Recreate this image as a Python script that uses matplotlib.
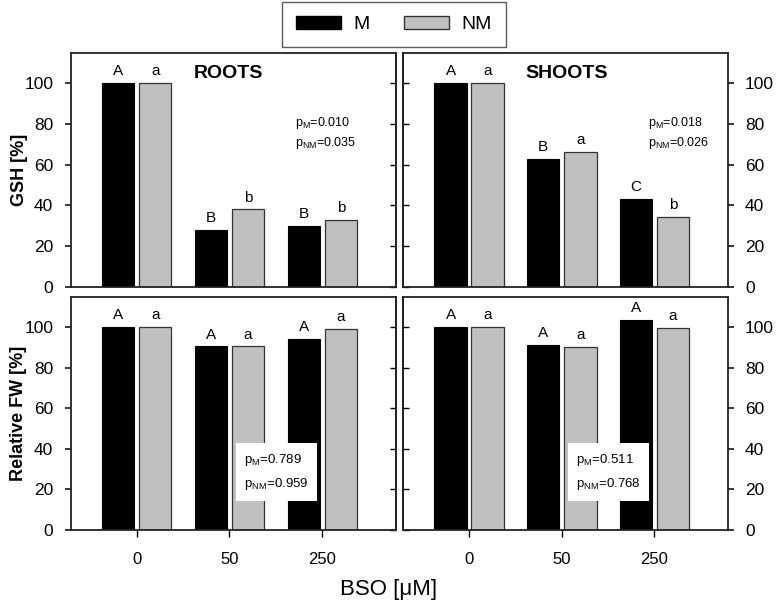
import numpy as np
import matplotlib
matplotlib.use("Agg")
import matplotlib.pyplot as plt
from matplotlib.patches import Patch

plt.rcParams['font.family'] = ['Liberation Sans', 'DejaVu Sans']
plt.rcParams['mathtext.fontset'] = 'custom'
plt.rcParams['mathtext.rm'] = 'Liberation Sans'
plt.rcParams['mathtext.it'] = 'Liberation Sans:italic'
plt.rcParams['mathtext.bf'] = 'Liberation Sans:bold'

# ---- data ----
bso_labels = ['0', '50', '250']
yticks = [0, 20, 40, 60, 80, 100]

roots_gsh_M = [100, 28, 30]
roots_gsh_NM = [100, 38, 33]
shoots_gsh_M = [100, 62.8, 43.3]
shoots_gsh_NM = [100, 66.2, 34.4]
roots_fw_M = [100, 90.4, 94.3]
roots_fw_NM = [100, 90.4, 98.9]
shoots_fw_M = [100, 91.2, 103.6]
shoots_fw_NM = [100, 90.3, 99.7]

roots_gsh_let_M = ['A', 'B', 'B']
roots_gsh_let_NM = ['a', 'b', 'b']
shoots_gsh_let_M = ['A', 'B', 'C']
shoots_gsh_let_NM = ['a', 'a', 'b']
fw_let_M = ['A', 'A', 'A']
fw_let_NM = ['a', 'a', 'a']

p_roots_gsh = ('0.010', '0.035')
p_shoots_gsh = ('0.018', '0.026')
p_roots_fw = ('0.789', '0.959')
p_shoots_fw = ('0.511', '0.768')

# ---- figure ----
W, H = 777, 607
fig = plt.figure(figsize=(W / 100, H / 100), dpi=100)


def ax_at(x0, y0, x1, y1):
    return fig.add_axes([x0 / W, 1 - y1 / H, (x1 - x0) / W, (y1 - y0) / H])


ax_rg = ax_at(70.7, 52.7, 395.7, 286.7)
ax_sg = ax_at(403.3, 52.7, 727.7, 286.7)
ax_rf = ax_at(70.7, 296.5, 395.7, 530)
ax_sf = ax_at(403.3, 296.5, 727.7, 530)

BLACK = '#000000'
GRAY = '#c0c0c0'


def draw(ax, m, nm, lm, lnm, side, bottom):
    x = np.arange(len(m))
    ax.bar(x - 0.2, m, 0.35, color=BLACK, edgecolor='black', linewidth=0.8, zorder=2)
    ax.bar(x + 0.2, nm, 0.35, color=GRAY, edgecolor='#333333', linewidth=0.9, zorder=2)
    for xi, v, t in zip(x, m, lm):
        ax.annotate(t, (xi - 0.2, v), xytext=(0, 3.5), textcoords='offset points',
                    ha='center', va='bottom', fontsize=11)
    for xi, v, t in zip(x, nm, lnm):
        ax.annotate(t, (xi + 0.2, v), xytext=(0, 3.5), textcoords='offset points',
                    ha='center', va='bottom', fontsize=11)
    ax.set_xlim(-0.71, 2.79)
    ax.set_ylim(0, 115)
    for s in ax.spines.values():
        s.set_linewidth(1.3)
        s.set_color('#222222')
    ax.set_yticks(yticks)
    if side == 'left':
        ax.yaxis.tick_left()
        sec = ax.secondary_yaxis('right')
        other = 'right'
    else:
        ax.yaxis.tick_right()
        sec = ax.secondary_yaxis('left')
        other = 'left'
    ax.tick_params(axis='y', direction='out', length=4.5, width=1.1, pad=8, labelsize=12.5)
    sec.set_yticks(yticks)
    sec.tick_params(direction='in', length=4, width=1.0, labelleft=False, labelright=False)
    sec.spines[other].set_linewidth(1.3)
    sec.spines[other].set_color('#222222')
    if bottom:
        ax.set_xticks(x)
        ax.set_xticklabels(bso_labels)
        ax.tick_params(axis='x', direction='out', length=5, width=1.0, pad=11, labelsize=12)
    else:
        ax.set_xticks([])


draw(ax_rg, roots_gsh_M, roots_gsh_NM, roots_gsh_let_M, roots_gsh_let_NM, 'left', False)
draw(ax_sg, shoots_gsh_M, shoots_gsh_NM, shoots_gsh_let_M, shoots_gsh_let_NM, 'right', False)
draw(ax_rf, roots_fw_M, roots_fw_NM, fw_let_M, fw_let_NM, 'left', True)
draw(ax_sf, shoots_fw_M, shoots_fw_NM, fw_let_M, fw_let_NM, 'right', True)

# titles
ax_rg.text(0.484, 0.913, 'ROOTS', transform=ax_rg.transAxes, ha='center', va='center',
           fontsize=14, fontweight='bold')
ax_sg.text(0.504, 0.913, 'SHOOTS', transform=ax_sg.transAxes, ha='center', va='center',
           fontsize=14, fontweight='bold')

# p-values top
for ax, (pm, pnm), xf in [(ax_rg, p_roots_gsh, 0.69), (ax_sg, p_shoots_gsh, 0.754)]:
    ax.text(xf, 0.70, r'p$_{\rm M}$=' + pm, transform=ax.transAxes, ha='left', va='center', fontsize=9)
    ax.text(xf, 0.614, r'p$_{\rm NM}$=' + pnm, transform=ax.transAxes, ha='left', va='center', fontsize=9)

# p-values bottom (boxed)
for ax, (pm, pnm) in [(ax_rf, p_roots_fw), (ax_sf, p_shoots_fw)]:
    ax.text(0.632, 0.248, r'p$_{\rm M}$=' + pm + '\n' + r'p$_{\rm NM}$=' + pnm,
            transform=ax.transAxes, ha='center', va='center', fontsize=9.5,
            multialignment='left', linespacing=1.8, zorder=5,
            bbox=dict(facecolor='white', edgecolor='none', pad=6))

# axis labels
fig.text(19 / W, 1 - 170 / H, 'GSH [%]', rotation=90, ha='center', va='center',
         fontsize=13, fontweight='bold')
fig.text(19 / W, 1 - 413 / H, 'Relative FW [%]', rotation=90, ha='center', va='center',
         fontsize=13, fontweight='bold')
fig.text(0.5, 1 - 590 / H, 'BSO [\u03bcM]', ha='center', va='center', fontsize=16)

# legend
handles = [Patch(facecolor=BLACK, edgecolor='black'),
           Patch(facecolor=GRAY, edgecolor='#333333')]
leg = fig.legend(handles, ['M', 'NM'], loc='upper center', bbox_to_anchor=(394 / W, 1 - 2 / H),
                 ncol=2, fontsize=14, frameon=True, fancybox=False, handlelength=2.3,
                 handleheight=0.7, columnspacing=1.8, handletextpad=0.65, borderpad=0.7,
                 borderaxespad=0)
leg.get_frame().set_edgecolor('#333333')
leg.get_frame().set_linewidth(1.0)

fig.savefig('out.png', dpi=100)
